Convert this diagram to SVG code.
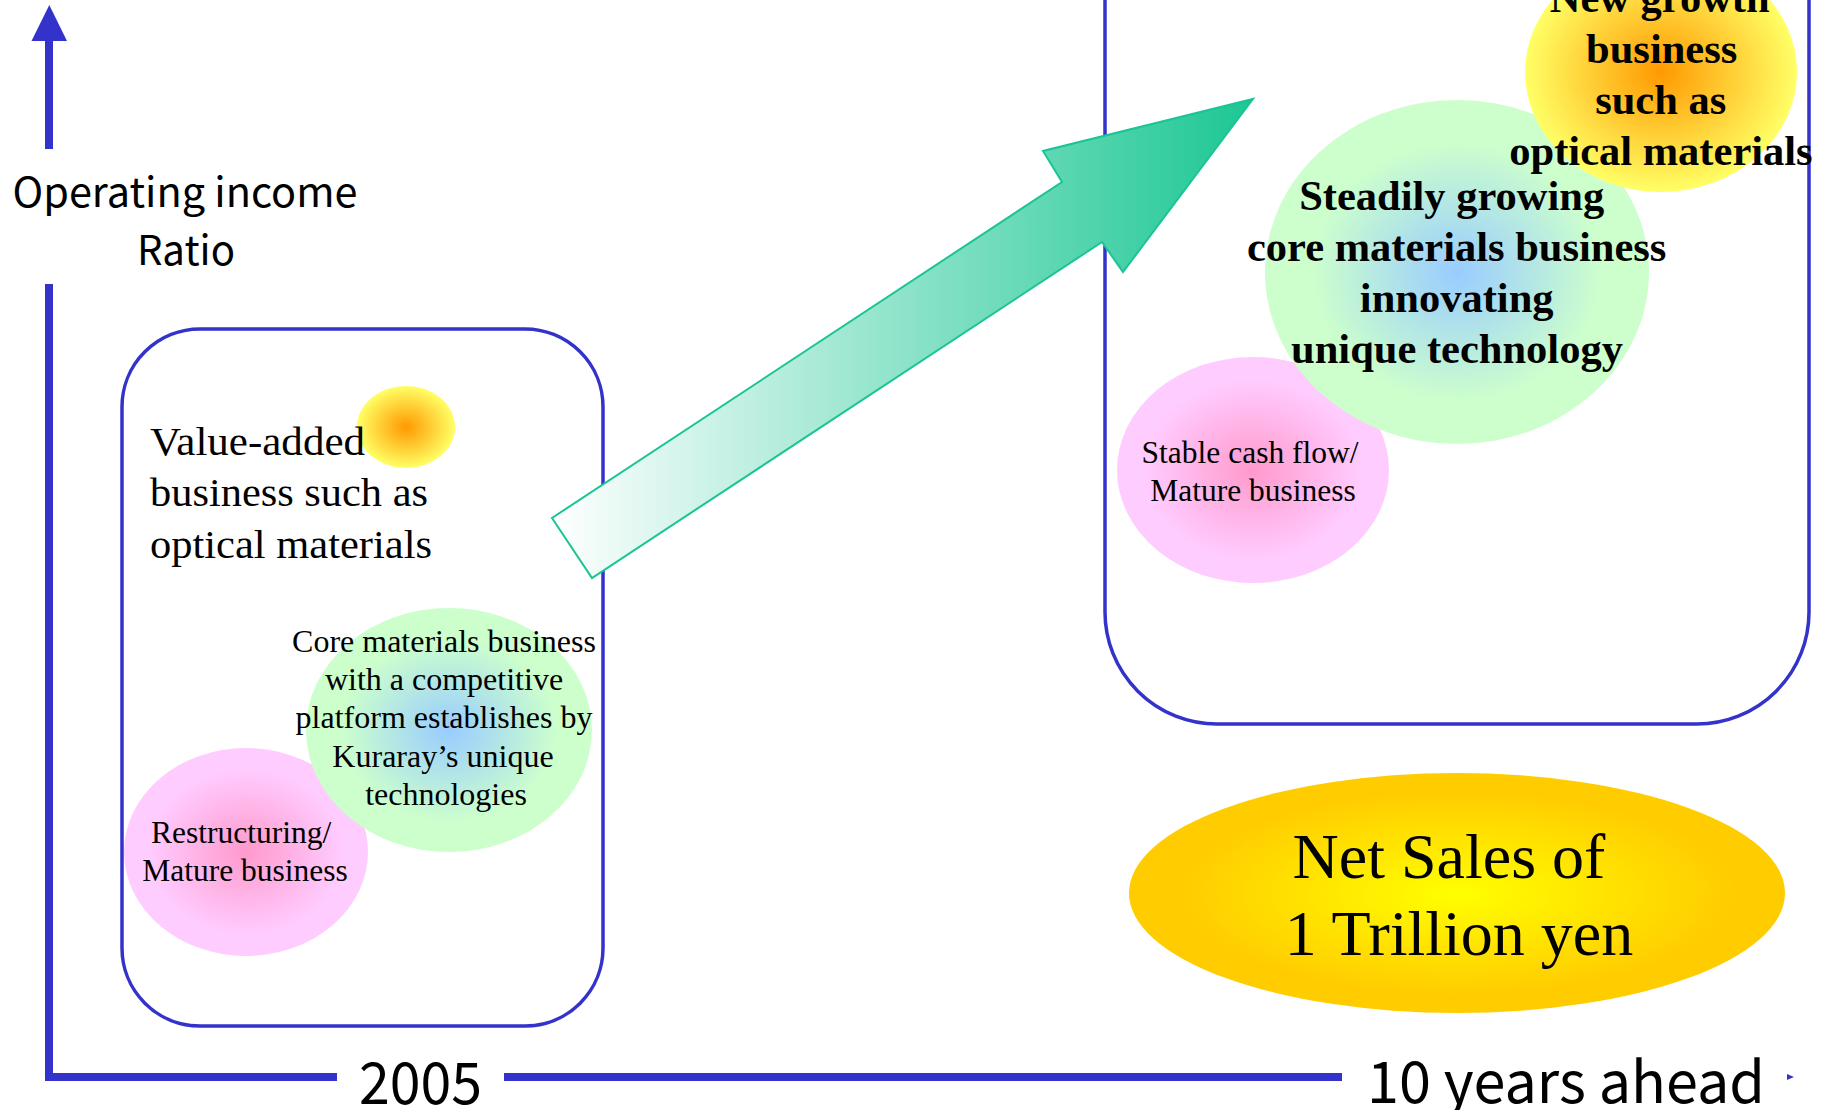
<svg xmlns="http://www.w3.org/2000/svg" width="1829" height="1110" viewBox="0 0 1829 1110">
  <style>
    .axis { fill: none; stroke: #3333cc; stroke-width: 8; }
    .box { fill: none; stroke: #3333cc; stroke-width: 3.5; }
    .gothic { font-family: "Noto Sans CJK JP", "Liberation Sans", sans-serif; fill: #000; }
    .serif { font-family: "Liberation Serif", "Times New Roman", serif; fill: #000; }
    .bold { font-weight: bold; }
    .mid { text-anchor: middle; }
  </style>
  <defs>
    <radialGradient id="gOrange" cx="50%" cy="50%" r="50%">
      <stop offset="0" stop-color="#ff9900"/>
      <stop offset="1" stop-color="#ffff66"/>
    </radialGradient>
    <radialGradient id="gGreen" cx="50%" cy="50%" r="50%">
      <stop offset="0" stop-color="#99ccff"/>
      <stop offset="0.75" stop-color="#ccffcc"/>
      <stop offset="1" stop-color="#ccffcc"/>
    </radialGradient>
    <radialGradient id="gPink" cx="50%" cy="50%" r="50%">
      <stop offset="0" stop-color="#ff99cc"/>
      <stop offset="0.8" stop-color="#ffccff"/>
      <stop offset="1" stop-color="#ffccff"/>
    </radialGradient>
    <radialGradient id="gGold" cx="50%" cy="50%" r="50%">
      <stop offset="0" stop-color="#ffff00"/>
      <stop offset="0.85" stop-color="#ffcc00"/>
      <stop offset="1" stop-color="#ffcc00"/>
    </radialGradient>
    <linearGradient id="gArrow" x1="552" y1="0" x2="1253" y2="0" gradientUnits="userSpaceOnUse">
      <stop offset="0" stop-color="#ffffff"/>
      <stop offset="1" stop-color="#1cc794"/>
    </linearGradient>
  </defs>

  <g id="axes">
    <line class="axis" x1="49" y1="38" x2="49" y2="149"/>
    <line class="axis" x1="49" y1="284" x2="49" y2="1081"/>
    <polygon points="31.5,41 67,41 49.3,5" fill="#3333cc"/>
    <line class="axis" x1="45" y1="1077" x2="337" y2="1077"/>
    <line class="axis" x1="504" y1="1077" x2="1342" y2="1077"/>
    <polygon points="1787,1074 1794,1077 1787,1080" fill="#3333cc"/>
    <text class="gothic mid" x="185" y="207" font-size="41" textLength="345" lengthAdjust="spacingAndGlyphs">Operating income</text>
    <text class="gothic mid" x="186" y="265" font-size="41" textLength="98" lengthAdjust="spacingAndGlyphs">Ratio</text>
    <text class="gothic" x="359" y="1104" font-size="58" textLength="123" lengthAdjust="spacingAndGlyphs">2005</text>
    <text class="gothic" x="1367" y="1103" font-size="58" textLength="398" lengthAdjust="spacingAndGlyphs">10 years ahead</text>
  </g>

  <g id="box-2005">
    <rect class="box" x="122" y="329" width="481" height="697" rx="78" ry="78"/>
  </g>

  <g id="box-future">
    <path class="box" d="M1105,-10 V612 A112,112 0 0 0 1217,724 H1697 A112,112 0 0 0 1809,612 V-10"/>
  </g>

  <g id="node-value-added">
    <ellipse cx="406" cy="427" rx="49" ry="41" fill="url(#gOrange)"/>
    <text class="serif" font-size="41">
      <tspan x="150" y="455" textLength="215" lengthAdjust="spacingAndGlyphs">Value-added</tspan>
      <tspan x="150" y="506" textLength="278" lengthAdjust="spacingAndGlyphs">business such as</tspan>
      <tspan x="150" y="558" textLength="282" lengthAdjust="spacingAndGlyphs">optical materials</tspan>
    </text>
  </g>

  <g id="node-restructuring">
    <ellipse cx="246" cy="852" rx="122" ry="104" fill="url(#gPink)"/>
    <text class="serif mid" font-size="31.5">
      <tspan x="245" y="843">Restructuring/</tspan>
      <tspan x="245" y="881">Mature business</tspan>
    </text>
  </g>

  <g id="node-core-2005">
    <ellipse cx="449" cy="730" rx="143" ry="122" fill="url(#gGreen)"/>
    <text class="serif mid" font-size="32">
      <tspan x="448" y="652">Core materials business</tspan>
      <tspan x="448" y="690">with a competitive</tspan>
      <tspan x="448" y="728">platform establishes by</tspan>
      <tspan x="447" y="767">Kuraray’s unique</tspan>
      <tspan x="446" y="805">technologies</tspan>
    </text>
  </g>

  <g id="node-stable">
    <ellipse cx="1253" cy="470" rx="136" ry="113" fill="url(#gPink)"/>
    <text class="serif mid" font-size="31.5">
      <tspan x="1254" y="463">Stable cash flow/</tspan>
      <tspan x="1253" y="501">Mature business</tspan>
    </text>
  </g>

  <g id="node-core-future">
    <ellipse cx="1457" cy="272" rx="192" ry="172" fill="url(#gGreen)"/>
    <text class="serif bold mid" font-size="42.5">
      <tspan x="1457" y="210">Steadily growing</tspan>
      <tspan x="1462" y="261">core materials business</tspan>
      <tspan x="1462" y="312">innovating</tspan>
      <tspan x="1457" y="363">unique technology</tspan>
    </text>
  </g>

  <g id="node-new-growth">
    <ellipse cx="1661" cy="72" rx="136" ry="120" fill="url(#gOrange)"/>
    <text class="serif bold mid" font-size="42.5">
      <tspan x="1665" y="12">New growth</tspan>
      <tspan x="1667" y="63">business</tspan>
      <tspan x="1666" y="114">such as</tspan>
      <tspan x="1661" y="165">optical materials</tspan>
    </text>
  </g>

  <g id="node-net-sales">
    <ellipse cx="1457" cy="893" rx="328" ry="120" fill="url(#gGold)"/>
    <text class="serif mid" font-size="64">
      <tspan x="1457" y="878">Net Sales of</tspan>
      <tspan x="1459" y="955">1 Trillion yen</tspan>
    </text>
  </g>

  <g id="connectors">
    <polygon points="552,518 592,578 1102,242 1123,272 1253,99 1043,151 1062,182" fill="url(#gArrow)" stroke="#19c495" stroke-width="2" stroke-linejoin="miter"/>
  </g>
</svg>
